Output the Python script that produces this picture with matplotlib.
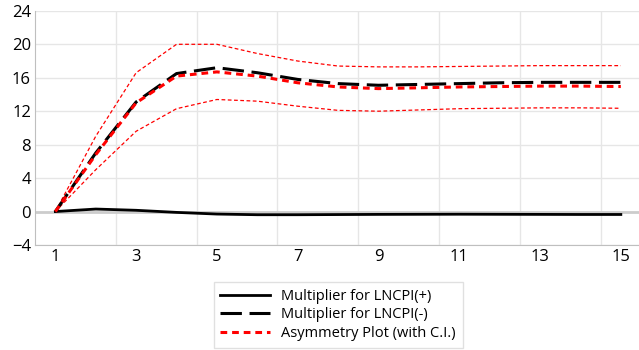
import matplotlib.pyplot as plt

plt.rcParams['font.family'] = ['Open Sans', 'DejaVu Sans']

horizon = list(range(1, 16))
mult_pos = [0, 0.3, 0.15, -0.1, -0.3, -0.38, -0.38, -0.36, -0.34, -0.33, -0.32, -0.33, -0.34, -0.35, -0.35]
mult_neg = [0, 7.0, 13.1, 16.5, 17.2, 16.6, 15.8, 15.3, 15.1, 15.2, 15.3, 15.4, 15.45, 15.45, 15.45]
asym = [0, 6.8, 13.0, 16.2, 16.7, 16.2, 15.4, 14.9, 14.7, 14.8, 14.9, 14.95, 15.0, 15.0, 14.95]
ci_upper = [0, 9.0, 16.6, 20.0, 20.0, 18.9, 18.0, 17.4, 17.3, 17.3, 17.35, 17.4, 17.45, 17.45, 17.45]
ci_lower = [0, 5.0, 9.6, 12.3, 13.4, 13.2, 12.6, 12.1, 12.0, 12.15, 12.3, 12.35, 12.4, 12.4, 12.35]

fig = plt.figure(figsize=(6.39, 3.5), dpi=100)
ax = fig.add_axes([0.055, 0.30, 0.945, 0.669])

ax.plot(horizon, mult_pos, color='black', lw=2, label='Multiplier for LNCPI(+)', zorder=4)
ax.plot(horizon, mult_neg, color='black', lw=2.2, dashes=(7, 2.5), label='Multiplier for LNCPI(-)', zorder=4)
ax.plot(horizon, asym, color='red', lw=2.2, dashes=(2.2, 1.6), label='Asymmetry Plot (with C.I.)', zorder=5)
ax.plot(horizon, ci_upper, color='red', lw=0.9, dashes=(3, 2), zorder=3)
ax.plot(horizon, ci_lower, color='red', lw=0.9, dashes=(3, 2), zorder=3)

ax.set_xlim(0.5, 15.45)
ax.set_ylim(-4, 24)
ax.set_yticks(range(-4, 25, 4))
ax.set_xticks(range(1, 16, 2))
ax.set_xticks([x + 0.5 for x in range(2, 15, 2)], minor=True)
ax.tick_params(axis='x', which='both', length=0, labelsize=12, pad=3)
ax.tick_params(axis='y', length=0, labelsize=12, pad=3)
ax.grid(axis='y', color='#e6e6e6', lw=1)
ax.grid(axis='x', which='minor', color='#e6e6e6', lw=1)
ax.axhline(0, color='#cccccc', lw=2, zorder=2)
for s in ['top', 'right']:
    ax.spines[s].set_visible(False)
ax.spines['left'].set_color('#bfbfbf')
ax.spines['bottom'].set_color('#bfbfbf')

fig.legend(loc='center', bbox_to_anchor=(0.529, 0.1, 0, 0), fontsize=10.5, frameon=True,
           fancybox=False, edgecolor='#d9d9d9', handlelength=3.4, borderpad=0.45,
           labelspacing=0.25)

fig.savefig('out.png', dpi=100)
